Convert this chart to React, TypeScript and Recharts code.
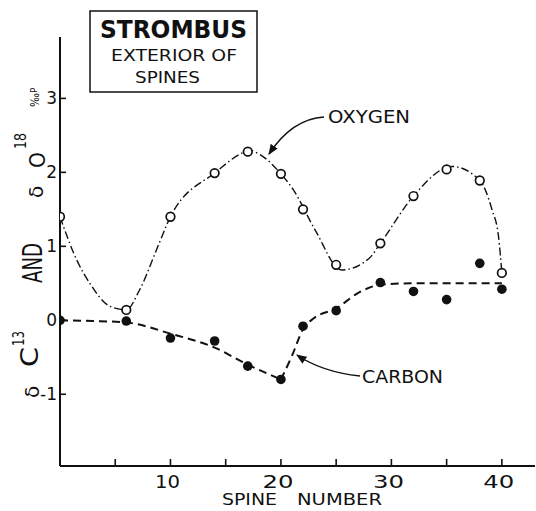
import React from 'react';
import { ComposedChart, Line, Scatter, XAxis, YAxis } from 'recharts';

// spine numbers where samples were taken
const spines = [0, 6, 10, 14, 17, 20, 22, 25, 29, 32, 35, 38, 40];
// delta O18 (open circles)
const oxygen = [1.4, 0.14, 1.4, 1.99, 2.28, 1.98, 1.5, 0.75, 1.04, 1.68, 2.04, 1.89, 0.64];
// delta C13 (filled circles)
const carbon = [0, -0.01, -0.24, -0.28, -0.62, -0.8, -0.08, 0.13, 0.51, 0.39, 0.28, 0.77, 0.42];

// hand-drawn fit curves
const oxygenFitX = [0, 1.5, 2.7, 4.5, 6, 7.2, 9, 10, 14, 17.3, 18.1, 20, 21.1, 23.1, 25.5, 28, 29, 32, 35.5, 38, 39.1, 39.7, 40];
const oxygenFitY = [1.4, 0.82, 0.5, 0.19, 0.14, 0.41, 1.05, 1.4, 1.99, 2.29, 2.24, 1.98, 1.77, 1.22, 0.68, 0.84, 1.04, 1.68, 2.08, 1.89, 1.5, 1.13, 0.64];
const carbonFallX = [0, 3, 6, 10, 14, 17, 20];
const carbonFallY = [0, -0.01, -0.03, -0.18, -0.37, -0.6, -0.8];
const carbonRiseX = [20, 21, 22, 23, 25, 27, 29, 32, 36, 40];
const carbonRiseY = [-0.8, -0.48, -0.12, 0.03, 0.16, 0.37, 0.48, 0.5, 0.5, 0.5];

const xTicks = [5, 10, 15, 20, 25, 30, 35, 40];
const xLabels = ['', '10', '', '20', '', '30', '', '40'];
const yTicks = [-1, 0, 1, 2, 3];

const FONT = '"DejaVu Sans", sans-serif';
const INK = '#111';

const zip = (xs: number[], ys: number[]) => xs.map((x, i) => ({ spine: x, value: ys[i] }));
const oxygenPts = zip(spines, oxygen);
const carbonPts = zip(spines, carbon);
const oxygenFit = zip(oxygenFitX, oxygenFitY);
const carbonFall = zip(carbonFallX, carbonFallY);
const carbonRise = zip(carbonRiseX, carbonRiseY);

function XTick({ x, y, index }: any) {
  const label = xLabels[index] ?? '';
  return (
    <g>
      <line x1={x} x2={x} y1={y} y2={y - 7} stroke={INK} strokeWidth={1.6} />
      {label && (
        <text x={x - 3} y={y + 22} textAnchor="middle" fontSize={17} fontFamily={FONT} fill={INK}
          textLength={label === '10' ? 25 : 31} lengthAdjust="spacingAndGlyphs">
          {label}
        </text>
      )}
    </g>
  );
}

function YTick({ x, y, payload }: any) {
  return (
    <g>
      <line x1={x} x2={x + 6} y1={y} y2={y} stroke={INK} strokeWidth={1.6} />
      <text x={x - 3} y={y + 6} textAnchor="end" fontSize={17} fontFamily={FONT} fill={INK}>
        {payload.value}
      </text>
    </g>
  );
}

const OpenDot = (p: any) => <circle cx={p.cx} cy={p.cy} r={4.3} fill="#fff" stroke={INK} strokeWidth={1.7} />;
const FilledDot = (p: any) => <circle cx={p.cx} cy={p.cy} r={4.8} fill={INK} />;

function Rot({ x, y, size, len, children }: any) {
  return (
    <text transform={`translate(${x},${y}) rotate(-90)`} fontSize={size} fontFamily={FONT} fill={INK}
      textLength={len} lengthAdjust={len ? 'spacingAndGlyphs' : undefined}>
      {children}
    </text>
  );
}

function Notes() {
  return (
    <svg width={536} height={511} style={{ position: 'absolute', left: 0, top: 0, pointerEvents: 'none' }}>
      <defs>
        <marker id="head" viewBox="0 0 10 10" refX="9" refY="5" markerWidth="7" markerHeight="7" orient="auto">
          <path d="M0,1 L10,5 L0,9 z" fill={INK} />
        </marker>
      </defs>
      <rect x={90} y={11} width={167} height={81} fill="#fff" stroke={INK} strokeWidth={1.5} />
      <text x={173.5} y={38} textAnchor="middle" fontSize={24} fontWeight="bold" fontFamily={FONT} fill={INK}
        textLength={147} lengthAdjust="spacingAndGlyphs">STROMBUS</text>
      <text x={174} y={61} textAnchor="middle" fontSize={15} fontFamily={FONT} fill={INK}
        textLength={126} lengthAdjust="spacingAndGlyphs">EXTERIOR OF</text>
      <text x={167.5} y={83} textAnchor="middle" fontSize={15} fontFamily={FONT} fill={INK}
        textLength={65} lengthAdjust="spacingAndGlyphs">SPINES</text>

      <text x={328} y={123} fontSize={17} fontFamily={FONT} fill={INK} textLength={82} lengthAdjust="spacingAndGlyphs">OXYGEN</text>
      <path d="M324 117 Q292 119 269 154" fill="none" stroke={INK} strokeWidth={1.5} markerEnd="url(#head)" />
      <text x={362} y={383} fontSize={17} fontFamily={FONT} fill={INK} textLength={81} lengthAdjust="spacingAndGlyphs">CARBON</text>
      <path d="M360 376 Q322 372 297 355" fill="none" stroke={INK} strokeWidth={1.5} markerEnd="url(#head)" />

      <text x={222} y={505} fontSize={16} fontFamily={FONT} fill={INK} textLength={55} lengthAdjust="spacingAndGlyphs">SPINE</text>
      <text x={297} y={505} fontSize={16} fontFamily={FONT} fill={INK} textLength={85} lengthAdjust="spacingAndGlyphs">NUMBER</text>

      <Rot x={39} y={398} size={20}>δ</Rot>
      <Rot x={38} y={367} size={24} len={20}>C</Rot>
      <Rot x={24} y={346} size={16} len={15}>13</Rot>
      <Rot x={42} y={283} size={26} len={40}>AND</Rot>
      <Rot x={43} y={198} size={20}>δ</Rot>
      <Rot x={45} y={168} size={21} len={16}>O</Rot>
      <Rot x={26} y={149} size={16} len={16}>18</Rot>
      <Rot x={39} y={107} size={13} len={14}>‰</Rot>
      <Rot x={37} y={93} size={9}>P</Rot>
    </svg>
  );
}

export default function App() {
  return (
    <div style={{ position: 'absolute', left: 0, top: 0, width: 536, height: 511, background: '#fff' }}>
      <ComposedChart width={536} height={511} margin={{ top: 37, right: 1, bottom: 0, left: 0 }}>
        <XAxis type="number" dataKey="spine" domain={[0, 43]} ticks={xTicks} height={45}
          axisLine={{ stroke: INK, strokeWidth: 2 }} tickLine={false} tickSize={0} tickMargin={0}
          tick={<XTick />} allowDataOverflow />
        <YAxis type="number" dataKey="value" domain={[-1.97, 3.83]} ticks={yTicks} width={60}
          axisLine={{ stroke: INK, strokeWidth: 2 }} tickLine={false} tickSize={0} tickMargin={0}
          tick={<YTick />} allowDataOverflow />
        <Line data={oxygenFit} dataKey="value" type="monotone" stroke={INK} strokeWidth={1.4}
          strokeDasharray="8 3 1.5 3" dot={false} isAnimationActive={false} />
        <Line data={carbonFall} dataKey="value" type="monotone" stroke={INK} strokeWidth={2}
          strokeDasharray="8 5" dot={false} isAnimationActive={false} />
        <Line data={carbonRise} dataKey="value" type="monotone" stroke={INK} strokeWidth={2}
          strokeDasharray="8 5" dot={false} isAnimationActive={false} />
        <Scatter data={oxygenPts} dataKey="value" shape={OpenDot} isAnimationActive={false} />
        <Scatter data={carbonPts} dataKey="value" shape={FilledDot} isAnimationActive={false} />
      </ComposedChart>
      <Notes />
    </div>
  );
}
